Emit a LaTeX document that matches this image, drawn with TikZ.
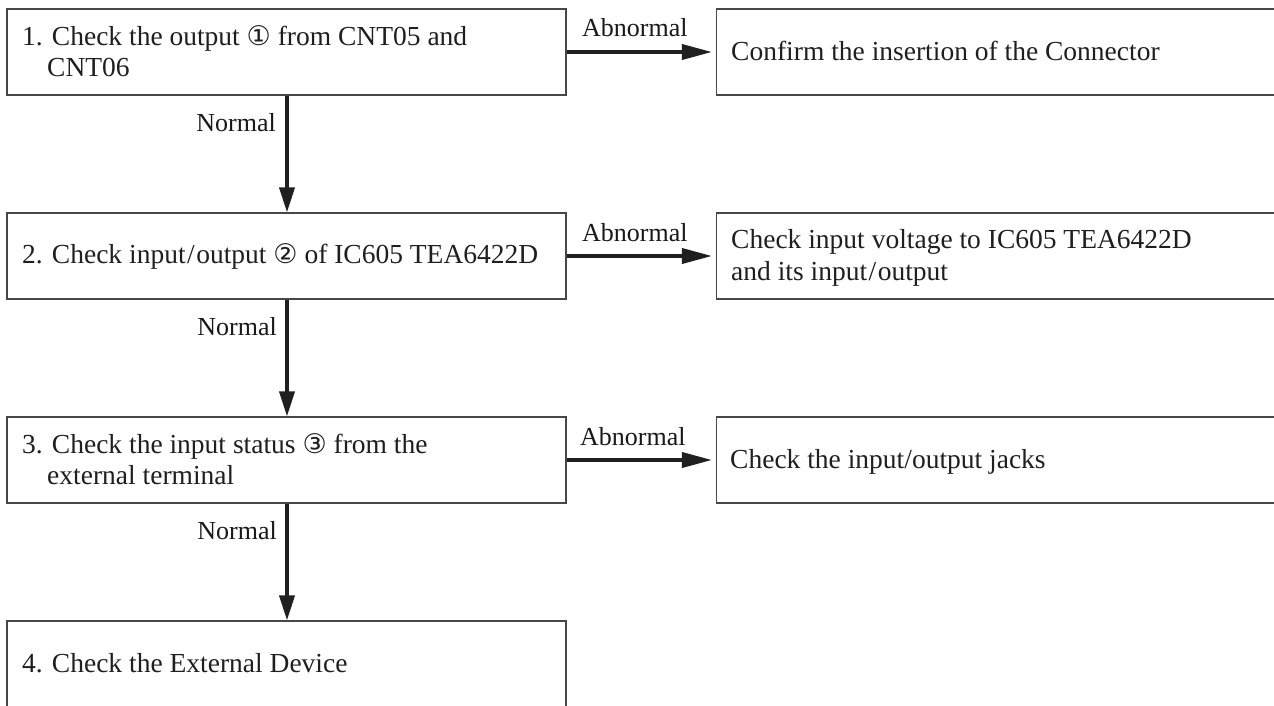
\documentclass[tikz,border=0pt]{standalone}
\usepackage{fontspec}
\setmainfont{Liberation Serif}
\newfontfamily\circfont{DejaVu Sans}
\usetikzlibrary{arrows.meta}
\tikzset{
  boxnode/.style={draw=black!72, line width=1.1pt, inner sep=0pt, minimum width=559pt, minimum height=86pt},
  rboxnode/.style={draw=black!72, line width=1.1pt, inner sep=0pt, minimum width=564pt, minimum height=86pt},
  txt/.style={anchor=base west, inner sep=0pt, font=\fontsize{27.5}{31}\selectfont, text=black!88},
  lbl/.style={inner sep=0pt, font=\fontsize{26}{30}\selectfont, text=black!90},
  harr/.style={line width=3.6pt, draw=black!88, fill=black!88, -{Triangle[length=30pt,width=15pt]}, shorten >=4pt},
  varr/.style={line width=3.6pt, draw=black!88, fill=black!88, -{Triangle[length=25pt,width=15pt]}},
}
\newcommand{\circd}[1]{{\circfont\fontsize{27}{27}\selectfont #1}}
\newcommand{\slsh}{\kern1.5pt/\kern1.5pt}
\begin{document}
\begin{tikzpicture}[x=1pt, y=-1pt]
\useasboundingbox (0,0) rectangle (1274,705);
\clip (0,0) rectangle (1274,705);
\fill[white] (0,0) rectangle (1274,705);
% left boxes
\node[boxnode] (b1) at (286.5,52) {};
\node[boxnode] (b2) at (286.5,256) {};
\node[boxnode] (b3) at (286.5,460) {};
\node[boxnode, minimum height=92pt] (b4) at (286.5,667) {};
% right boxes
\node[rboxnode] (r1) at (998.5,52) {};
\node[rboxnode] (r2) at (998.5,256) {};
\node[rboxnode] (r3) at (998.5,460) {};
% texts
\node[txt] (t1a) at (22,45) {1. Check the output \circd{①} from CNT05 and};
\node[txt] (t1b) at (47,76) {CNT06};
\node[txt] (t2) at (22,263) {2. Check input\slsh output \circd{②} of IC605 TEA6422D};
\node[txt] (t3a) at (22,453) {3. Check the input status \circd{③} from the};
\node[txt] (t3b) at (47,484) {external terminal};
\node[txt] (t4) at (22,672) {4. Check the External Device};
\node[txt] (u1) at (731,60) {Confirm the insertion of the Connector};
\node[txt] (u2a) at (731,248) {Check input voltage to IC605 TEA6422D};
\node[txt] (u2b) at (731,280) {and its input\slsh output};
\node[txt] (u3) at (730,468) {Check the input/output jacks};
% connectors
\coordinate (ax) at (287,0);
\draw[harr] (b1.east) -- (r1.west);
\draw[harr] (b2.east) -- (r2.west);
\draw[harr] (b3.east) -- (r3.west);
\draw[varr] (b1.south -| ax) -- (b2.north -| ax);
\draw[varr] (b2.south -| ax) -- (b3.north -| ax);
\draw[varr] (b3.south -| ax) -- (b4.north -| ax);
% labels
\node[lbl, anchor=base west] (ab1) at (582,36) {Abnormal};
\node[lbl, anchor=base west] (ab2) at (582,241) {Abnormal};
\node[lbl, anchor=base west] (ab3) at (580,445) {Abnormal};
\node[lbl, anchor=base east] (n1) at (276,131) {Normal};
\node[lbl, anchor=base east] (n2) at (277,335) {Normal};
\node[lbl, anchor=base east] (n3) at (277,539) {Normal};
\end{tikzpicture}
\end{document}
